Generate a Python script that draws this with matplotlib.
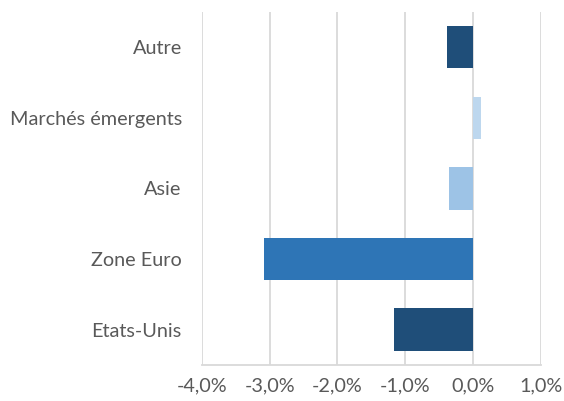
import matplotlib
matplotlib.use("Agg")
import matplotlib.pyplot as plt
from matplotlib.ticker import FuncFormatter

categories = ["Etats-Unis", "Zone Euro", "Asie", "Marchés émergents", "Autre"]
values = [-1.16, -3.09, -0.36, 0.11, -0.39]
colors = ["#1F4E79", "#2E75B6", "#9DC3E6", "#BDD7EE", "#1F4E79"]
xticks = [-4, -3, -2, -1, 0, 1]

plt.rcParams['font.family'] = ['Lato', 'DejaVu Sans']
fig = plt.figure(figsize=(5.64, 4.01), dpi=100)
ax = fig.add_axes([0.358, 0.09, 0.601, 0.88])
ax.barh(range(len(categories)), values, height=0.6, color=colors, zorder=3)
ax.set_xlim(-4, 1)
ax.set_ylim(-0.5, len(categories) - 0.5)
ax.set_xticks(xticks)
ax.xaxis.set_major_formatter(FuncFormatter(lambda v, p: f"{v:.1f}%".replace(".", ",")))
ax.set_yticks(range(len(categories)))
ax.set_yticklabels(categories)
ax.grid(axis="x", color="#D9D9D9", linewidth=1.3, zorder=0)
for s in ["top", "right", "left"]:
    ax.spines[s].set_visible(False)
ax.spines["bottom"].set_color("#D9D9D9")
ax.spines["bottom"].set_linewidth(1.3)
ax.tick_params(axis="both", length=0, labelsize=14.3, colors="#595959", pad=9)
ax.tick_params(axis="y", pad=14.5)
fig.savefig("out.png", dpi=100)
